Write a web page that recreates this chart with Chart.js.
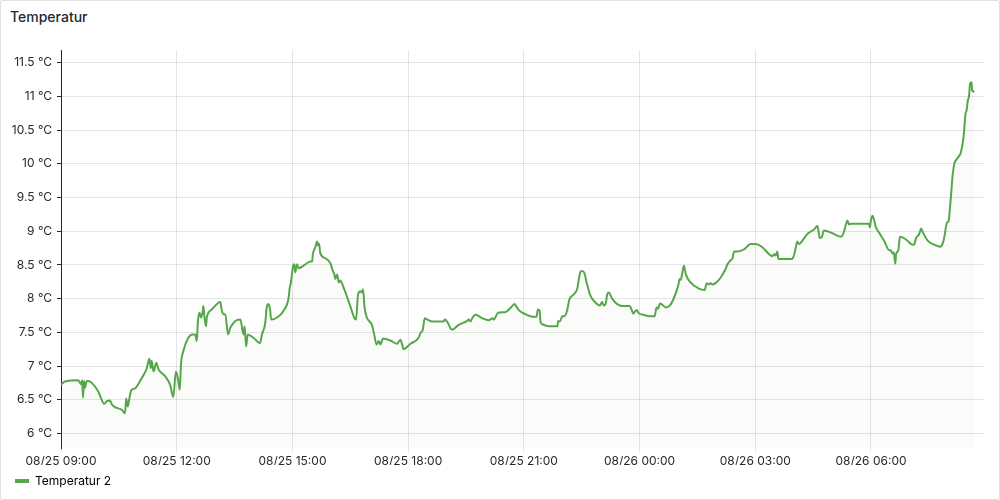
<!DOCTYPE html>
<html>
<head>
<meta charset="utf-8">
<script src="https://cdn.jsdelivr.net/npm/chart.js@4"></script>
<style>
  body { margin: 0; background: #fff; }
  #panel { position: relative; width: 1000px; height: 500px; box-sizing: border-box; border: 1px solid #e2e2e4; border-radius: 2px; background: #fff; font-family: Inter, sans-serif; }
  #title { position: absolute; left: 9px; top: 7px; font-size: 14px; font-weight: 500; color: #24292e; }
  #wrap { position: absolute; left: 0; top: 0; width: 998px; height: 498px; }
</style>
</head>
<body>
<div id="panel">
  <div id="title">Temperatur</div>
  <div id="wrap"><canvas id="grafTemp"></canvas></div>
</div>
<script>
// hours counted from 08/25 00:00
var horas = [
  9.00, 9.10, 9.45, 9.52, 9.55, 9.57, 9.60, 9.62, 9.67, 9.71, 9.80, 9.97, 10.12, 10.19, 10.27, 10.32, 10.40, 10.58, 10.66, 10.69,
  10.73, 10.76, 10.82, 10.92, 11.09, 11.22, 11.29, 11.33, 11.35, 11.40, 11.47, 11.53, 11.70, 11.83, 11.91, 11.98, 12.03, 12.08, 12.11, 12.17,
  12.30, 12.41, 12.48, 12.52, 12.55, 12.59, 12.63, 12.67, 12.69, 12.72, 12.76, 12.78, 12.91, 13.08, 13.13, 13.17, 13.21, 13.26, 13.33, 13.39,
  13.52, 13.65, 13.73, 13.76, 13.80, 13.84, 13.99, 14.16, 14.21, 14.29, 14.34, 14.38, 14.42, 14.45, 14.60, 14.77, 14.90, 14.93, 14.96, 15.01,
  15.05, 15.07, 15.12, 15.16, 15.29, 15.46, 15.51, 15.53, 15.59, 15.64, 15.66, 15.69, 15.72, 15.85, 15.98, 16.05, 16.09, 16.11, 16.16, 16.20,
  16.24, 16.33, 16.50, 16.60, 16.65, 16.70, 16.76, 16.80, 16.83, 16.87, 16.93, 17.06, 17.12, 17.18, 17.24, 17.28, 17.35, 17.54, 17.71, 17.80,
  17.84, 17.88, 18.06, 18.27, 18.32, 18.38, 18.43, 18.50, 18.62, 18.92, 18.95, 19.01, 19.10, 19.14, 19.31, 19.53, 19.57, 19.62, 19.66, 19.75,
  19.92, 20.09, 20.19, 20.22, 20.33, 20.52, 20.65, 20.76, 20.81, 20.87, 21.04, 21.26, 21.33, 21.36, 21.41, 21.43, 21.48, 21.65, 21.87, 21.89,
  21.92, 21.96, 21.99, 22.05, 22.12, 22.18, 22.29, 22.38, 22.47, 22.51, 22.57, 22.64, 22.73, 22.86, 22.97, 23.03, 23.07, 23.12, 23.16, 23.20,
  23.29, 23.42, 23.59, 23.75, 23.79, 23.84, 23.88, 23.93, 23.97, 24.11, 24.29, 24.39, 24.44, 24.48, 24.53, 24.59, 24.68, 24.79, 24.89, 25.00,
  25.04, 25.07, 25.11, 25.15, 25.20, 25.32, 25.54, 25.69, 25.74, 25.80, 25.84, 25.89, 25.97, 26.10, 26.23, 26.28, 26.34, 26.41, 26.45, 26.54,
  26.71, 26.88, 27.01, 27.19, 27.36, 27.44, 27.49, 27.53, 27.57, 27.60, 27.96, 28.01, 28.05, 28.09, 28.13, 28.18, 28.35, 28.53, 28.61, 28.64,
  28.67, 28.72, 28.78, 28.87, 29.04, 29.22, 29.28, 29.35, 29.39, 29.43, 29.48, 29.95, 29.97, 30.00, 30.04, 30.08, 30.12, 30.21, 30.34, 30.47,
  30.51, 30.56, 30.59, 30.63, 30.65, 30.71, 30.75, 30.82, 30.95, 31.04, 31.11, 31.17, 31.25, 31.30, 31.34, 31.47, 31.64, 31.80, 31.86, 31.90,
  31.97, 32.01, 32.07, 32.12, 32.16, 32.25, 32.33, 32.40, 32.45, 32.48, 32.51, 32.54, 32.57, 32.61, 32.62, 32.65, 32.67
];
var temperaturas = [
  6.72, 6.77, 6.79, 6.73, 6.79, 6.53, 6.78, 6.68, 6.78, 6.78, 6.75, 6.62, 6.44, 6.48, 6.49, 6.43, 6.39, 6.35, 6.30, 6.52,
  6.40, 6.48, 6.64, 6.67, 6.82, 6.96, 7.11, 6.97, 7.08, 6.92, 7.05, 6.95, 6.85, 6.72, 6.54, 6.92, 6.82, 6.65, 7.02, 7.22,
  7.42, 7.47, 7.47, 7.37, 7.67, 7.79, 7.72, 7.80, 7.89, 7.72, 7.59, 7.72, 7.84, 7.94, 7.95, 7.82, 7.77, 7.77, 7.47, 7.57,
  7.67, 7.69, 7.47, 7.59, 7.29, 7.47, 7.42, 7.34, 7.47, 7.62, 7.89, 7.92, 7.84, 7.69, 7.72, 7.82, 8.01, 8.16, 8.24, 8.46,
  8.51, 8.39, 8.51, 8.45, 8.49, 8.55, 8.55, 8.66, 8.76, 8.85, 8.79, 8.82, 8.68, 8.60, 8.53, 8.41, 8.36, 8.29, 8.36, 8.24,
  8.27, 8.16, 7.89, 7.72, 7.69, 8.06, 8.11, 8.09, 8.14, 7.87, 7.72, 7.61, 7.47, 7.32, 7.37, 7.32, 7.41, 7.38, 7.33, 7.39,
  7.33, 7.25, 7.33, 7.42, 7.49, 7.54, 7.71, 7.69, 7.66, 7.66, 7.69, 7.66, 7.56, 7.54, 7.61, 7.67, 7.69, 7.66, 7.71, 7.76,
  7.71, 7.68, 7.71, 7.69, 7.79, 7.80, 7.86, 7.92, 7.88, 7.83, 7.77, 7.73, 7.73, 7.84, 7.82, 7.66, 7.62, 7.59, 7.59, 7.67,
  7.66, 7.69, 7.74, 7.74, 7.82, 7.99, 8.06, 8.14, 8.40, 8.41, 8.38, 8.21, 8.04, 7.94, 7.90, 7.95, 7.90, 7.92, 8.06, 8.09,
  8.00, 7.92, 7.89, 7.89, 7.84, 7.78, 7.81, 7.83, 7.79, 7.76, 7.74, 7.74, 7.87, 7.85, 7.93, 7.91, 7.87, 7.90, 8.01, 8.19,
  8.29, 8.28, 8.39, 8.49, 8.36, 8.24, 8.15, 8.13, 8.23, 8.21, 8.23, 8.21, 8.23, 8.31, 8.44, 8.51, 8.56, 8.60, 8.70, 8.70,
  8.73, 8.81, 8.81, 8.76, 8.66, 8.63, 8.66, 8.64, 8.70, 8.59, 8.59, 8.66, 8.76, 8.85, 8.81, 8.83, 8.96, 9.03, 9.08, 9.00,
  8.90, 8.91, 9.01, 9.00, 8.96, 8.92, 8.96, 9.10, 9.16, 9.10, 9.11, 9.11, 9.06, 9.17, 9.23, 9.17, 9.07, 8.98, 8.86, 8.72,
  8.72, 8.67, 8.69, 8.52, 8.66, 8.72, 8.92, 8.91, 8.86, 8.81, 8.80, 8.90, 8.96, 9.04, 8.99, 8.86, 8.80, 8.77, 8.82, 8.91,
  9.13, 9.15, 9.50, 9.85, 10.00, 10.09, 10.17, 10.40, 10.74, 10.80, 10.94, 11.00, 11.19, 11.21, 11.09, 11.08, 11.06
];
var xTicks = [9, 12, 15, 18, 21, 24, 27, 30];
var xTickLabels = ['08/25 09:00', '08/25 12:00', '08/25 15:00', '08/25 18:00', '08/25 21:00', '08/26 00:00', '08/26 03:00', '08/26 06:00'];
var yTicks = [6, 6.5, 7, 7.5, 8, 8.5, 9, 9.5, 10, 10.5, 11, 11.5];

var puntos = [];
for (let i = 0; i < horas.length; i++) {
  puntos.push({x: horas[i], y: temperaturas[i]});
}

Chart.defaults.font.family = 'Inter, sans-serif';
Chart.defaults.font.size = 12;
Chart.defaults.color = '#24292e';

var ctx = document.getElementById('grafTemp');
var grafica = new Chart(ctx, {
  type: 'line',
  data: {
    datasets: [{
      label: 'Temperatur 2',
      data: puntos,
      borderColor: '#56a64b',
      backgroundColor: 'rgba(120,120,80,0.03)',
      borderWidth: 2,
      fill: 'start',
      pointRadius: 0,
      cubicInterpolationMode: 'monotone'
    }]
  },
  options: {
    responsive: true,
    maintainAspectRatio: false,
    animation: false,
    layout: { padding: { left: 4, right: 15, top: 49, bottom: 2 } },
    plugins: {
      tooltip: { enabled: false },
      legend: {
        position: 'bottom',
        align: 'start',
        labels: {
          boxWidth: 14,
          boxHeight: 4,
          padding: 10,
          useBorderRadius: true,
          borderRadius: 2,
          generateLabels: function(chart) {
            return [{ text: 'Temperatur 2', fillStyle: '#56a64b', strokeStyle: '#56a64b', lineWidth: 0, datasetIndex: 0 }];
          }
        }
      }
    },
    scales: {
      x: {
        type: 'linear',
        min: 9.0,
        max: 32.93,
        afterBuildTicks: function(axis) { axis.ticks = xTicks.map(v => ({value: v})); },
        afterFit: function(axis) { axis.height = 17; },
        ticks: {
          maxRotation: 0,
          autoSkip: false,
          padding: 2,
          callback: function(v, i) { return xTickLabels[i]; }
        },
        border: { display: false },
        grid: { color: 'rgba(36,41,46,0.12)', tickLength: 4 }
      },
      y: {
        min: 5.784,
        max: 11.69,
        afterBuildTicks: function(axis) { axis.ticks = yTicks.map(v => ({value: v})); },
        afterFit: function(axis) { axis.width = 56; },
        ticks: {
          padding: 5,
          callback: function(v) { return v + ' °C'; }
        },
        border: { display: true, color: '#24292e', width: 1 },
        grid: { color: 'rgba(36,41,46,0.12)', tickLength: 4, tickColor: '#24292e' }
      }
    }
  }
});
</script>
</body>
</html>
